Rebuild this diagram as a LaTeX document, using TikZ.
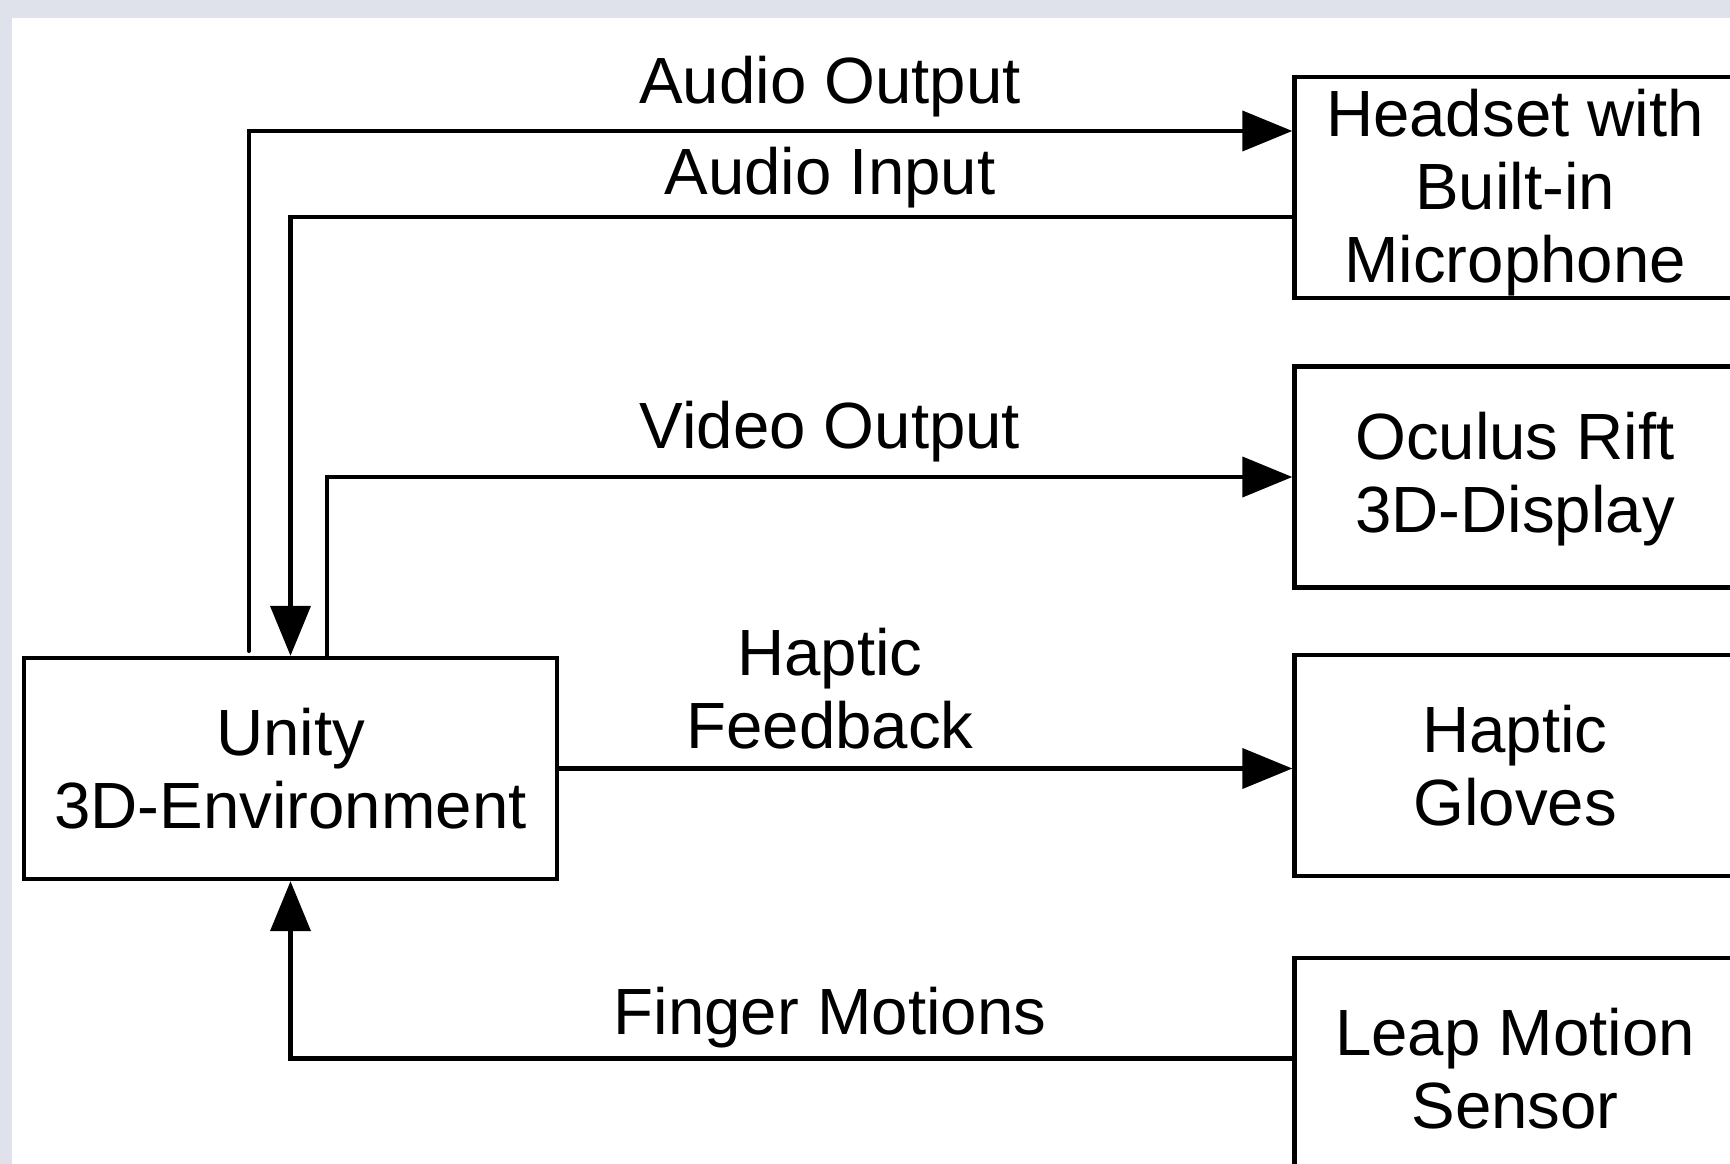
\documentclass[tikz,border=0pt]{standalone}
\usepackage{fontspec}
\setmainfont{Liberation Sans}
\usetikzlibrary{arrows.meta}
\definecolor{frame}{HTML}{DFE2EB}
\newcommand{\lowertext}[2]{\raisebox{-#1}[\height][\depth]{\begin{tabular}{@{}c@{}}#2\end{tabular}}}
\tikzset{
	blockbox/.style={draw,line width=1.25pt,minimum width=4.41cm,minimum height=2.21cm,align=center,inner sep=0pt},
	flow/.style={line width=1.15pt,-{Triangle[width=0.4cm,length=0.5cm]}},
	flowtxt/.style={align=center}
}
\begin{document}
\begin{tikzpicture}[font=\fontsize{18.6}{20.8}\selectfont]
	\fill[frame] (0,0) rectangle (17.3,-11.64);
	\fill[white] (0.12,-0.18) rectangle (17.3,-11.64);
	\useasboundingbox (0,0) rectangle (17.3,-11.64);
	\node[blockbox,minimum width=5.33cm] (unity) at (2.905,-7.685) {Unity\\3D-Environment};
	\node[blockbox] (headset) at (15.15,-1.875) {\lowertext{0.075cm}{Headset with\\Built-in\\Microphone}};
	\node[blockbox] (oculus) at (15.15,-4.77) {\lowertext{0.04cm}{Oculus Rift\\3D-Display}};
	\node[blockbox] (gloves) at (15.15,-7.655) {Haptic\\Gloves};
	\node[blockbox] (leap) at (15.15,-10.685) {Leap Motion\\Sensor};
	\coordinate (aostart) at (2.49,-6.51);
	\draw[flow,line cap=round] (aostart) |- ([yshift=0.565cm]headset.west);
	\draw[flow] ([yshift=-0.295cm]headset.west) -| (unity.north);
	\draw[flow] ([xshift=0.365cm]unity.north) |- (oculus.west);
	\draw[flow] (unity.east) -- (unity.east -| gloves.west);
	\draw[flow] ([yshift=0.1cm]leap.west) -| (unity.south);
	\node[flowtxt] (aolabel) at (8.3,-0.87) {Audio Output};
	\node[flowtxt] (ailabel) at (8.3,-1.78) {Audio Input};
	\node[flowtxt] (volabel) at (8.3,-4.32) {Video Output};
	\node[flowtxt] (hflabel) at (8.3,-6.89) {Haptic\\Feedback};
	\node[flowtxt] (fmlabel) at (8.3,-10.18) {Finger Motions};
\end{tikzpicture}
\end{document}
